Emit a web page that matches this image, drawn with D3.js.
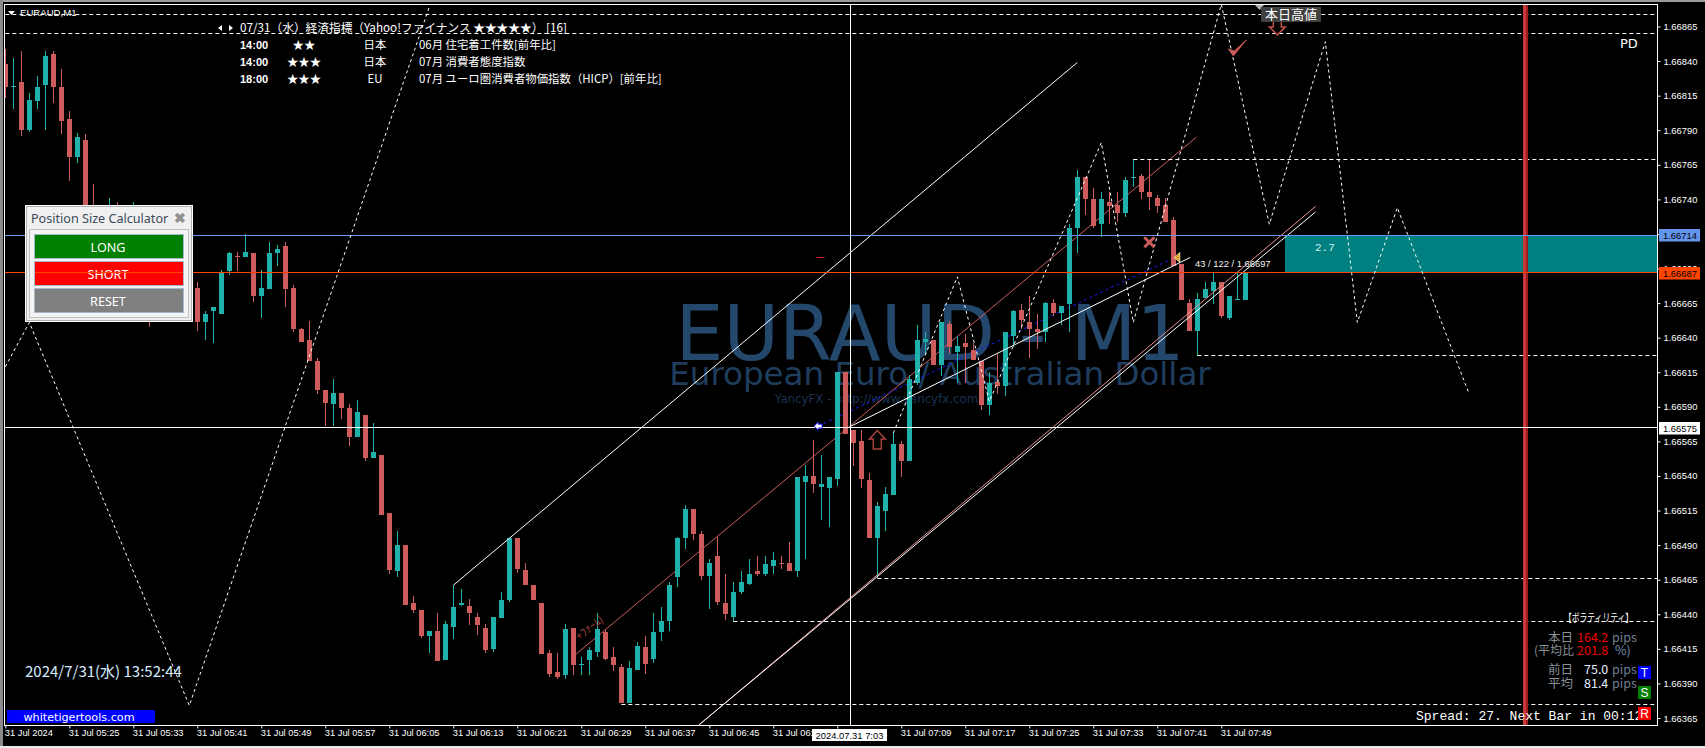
<!DOCTYPE html>
<html>
<head>
<meta charset="utf-8">
<title>EURAUD,M1</title>
<script src="https://cdn.jsdelivr.net/npm/d3@7/dist/d3.min.js"></script>
<style>
    html, body { margin: 0; padding: 0; background: #000; overflow: hidden; }
    text { font-family: "Liberation Sans", sans-serif; }
    .cjk { font-family: "Noto Sans CJK JP", sans-serif; }
</style>
</head>
<body>
<div id="wrapper"></div>
<script>
// all prices are in points above 1.66000, one value per minute from 05:17
const openPts = [838,821,825,790,811,823,845,821,798,771,783,731,717,703,722,706,695,715,682,662,673,663,688,692,
    676,651,659,657,688,699,698,701,670,675,701,706,676,646,638,623,602,592,600,589,568,584,553,555,513,471,490,448,443,424,
    428,407,431,447,446,438,430,415,437,450,495,472,461,448,412,398,396,430,403,407,413,427,409,402,376,400,416,408,427,435,
    467,495,516,498,468,482,448,438,456,462,471,469,475,477,477,471,536,540,532,531,538,615,573,565,537,495,515,526,563,551,
    607,637,638,620,650,630,636,631,623,591,608,605,641,660,651,646,644,665,658,664,719,756,740,722,738,736,730,756,757,745,
    741,736,725,693,665,645,669,674,680,654,667,667]
const highPts = [849,842,847,817,829,847,847,834,804,788,787,751,722,741,738,711,738,722,689,682,678,695,703,700,
    680,659,662,689,702,702,715,701,689,709,707,709,678,647,652,625,602,610,600,592,595,584,578,555,513,500,490,453,443,428,
    441,435,461,458,451,441,433,438,456,495,495,477,461,448,414,412,433,430,409,416,441,429,416,404,406,420,424,441,445,463,
    496,519,516,500,480,496,469,463,471,480,482,482,485,482,492,539,548,566,555,539,615,615,573,573,542,521,532,571,565,613,
    649,644,638,651,652,641,643,636,623,615,628,644,660,664,670,657,666,668,663,722,761,756,748,745,745,745,756,769,758,769,
    743,741,727,693,668,672,680,687,680,670,687,687]
const lowPts = [813,805,786,789,805,790,810,787,753,766,729,711,700,700,702,689,691,673,648,657,656,659,678,670,
    645,638,636,657,685,688,698,666,654,675,692,662,644,637,623,599,576,576,581,562,568,551,553,512,469,467,447,441,423,412,
    406,407,422,446,432,425,412,413,437,449,470,461,450,411,395,393,393,396,396,396,409,407,399,376,376,400,397,405,421,428,
    460,487,494,465,444,447,436,435,455,461,468,468,469,473,471,467,480,528,508,503,533,570,547,531,495,466,500,526,539,551,
    606,628,620,612,628,607,607,624,588,584,599,598,633,646,625,632,637,656,649,644,701,729,719,713,722,724,727,749,740,732,
    730,724,692,667,645,627,669,664,654,653,667,667]
const closePts = [821,822,790,812,821,844,821,797,771,785,731,717,703,724,706,695,717,682,662,673,663,691,695,675,
    651,657,662,687,701,698,702,670,676,701,704,675,646,637,623,602,593,600,589,568,586,553,557,512,472,490,447,443,424,428,
    406,433,445,448,441,432,414,438,450,495,473,461,450,411,397,395,429,403,404,414,429,408,403,376,401,417,404,427,435,461,
    495,516,498,468,477,449,440,456,463,469,469,476,479,476,471,539,540,534,534,539,615,570,564,538,495,518,527,563,551,610,
    638,639,620,651,633,634,633,624,591,607,605,644,659,653,646,644,665,658,663,719,756,740,721,740,735,730,754,756,745,742,
    735,724,692,667,645,668,675,680,656,670,668,687]

const priceTicks = [1.66865, 1.66840, 1.66815, 1.66790, 1.66765, 1.66740, 1.66715, 1.66690, 1.66665, 1.66640, 1.66615,
    1.66590, 1.66565, 1.66540, 1.66515, 1.66490, 1.66465, 1.66440, 1.66415, 1.66390, 1.66365]
const timeTickLabels = ["31 Jul 2024", "31 Jul 05:25", "31 Jul 05:33", "31 Jul 05:41", "31 Jul 05:49", "31 Jul 05:57", "31 Jul 06:05",
    "31 Jul 06:13", "31 Jul 06:21", "31 Jul 06:29", "31 Jul 06:37", "31 Jul 06:45", "31 Jul 06:53", "31 Jul 07:01", "31 Jul 07:09",
    "31 Jul 07:17", "31 Jul 07:25", "31 Jul 07:33", "31 Jul 07:41", "31 Jul 07:49"]

// dashed levels: bar index they start from, price in points
const levelStart = [0, 0, 141, 149, 109, 91, 77]
const levelPts = [874, 860, 769, 627, 466, 435, 375]

// zigzag indicator, two separate legs (bar index, points)
const zigA = [[0, 619], [3, 651], [23, 374], [54, 896]]
const zigB = [[111, 571], [119, 684], [123, 594], [137, 781], [141, 651], [152, 881], [158, 722], [165, 854], [169, 651], [174, 734], [183, 599]]

// channel lines [bar, pts, bar, pts]
const upperLine = [56, 461, 134, 839]
const midLine = [71.3, 411, 148.9, 785]
const lowerWhite = [86.7, 360, 163.8, 731]
const lowerRed = [86.7, 360, 163.8, 735]
const entryLine = [105.7, 576, 148.1, 698]
const blueLine = [101.6, 576, 146.2, 698]

const entryPrice = 1.66687
const stopPrice = 1.66714
const crossPrice = 1.66575

const newsTimes = ["14:00", "14:00", "18:00"]
const newsStars = ["★★", "★★★", "★★★"]
const newsAreas = ["日本", "日本", "EU"]
const newsTitles = ["06月 住宅着工件数[前年比]", "07月 消費者態度指数", "07月 ユーロ圏消費者物価指数（HICP）[前年比]"]

const panelButtons = ["LONG", "SHORT", "RESET"]
const panelColors = ["#008000", "#ff0000", "#808080"]

function drawChart() {

    let dimensions = {
        width: 1705,
        height: 748,
        margin: { top: 4.5, right: 48, bottom: 23, left: 4.5 },
    }
    dimensions.right = dimensions.width - dimensions.margin.right
    dimensions.bottom = dimensions.height - dimensions.margin.bottom

    const svg = d3.select("#wrapper")
        .append("svg")
        .attr("width", dimensions.width)
        .attr("height", dimensions.height)
        .style("display", "block")

    svg.append("rect").attr("width", 1705).attr("height", 748).attr("fill", "#000")
    // window chrome
    svg.append("rect").attr("width", 1705).attr("height", 2).attr("fill", "#9a9a9a")
    svg.append("rect").attr("width", 3).attr("height", 748).attr("fill", "#8a8a8a")
    svg.append("rect").attr("y", 746).attr("width", 1705).attr("height", 2).attr("fill", "#e8e8e8")

    svg.append("defs").append("clipPath").attr("id", "plot")
        .append("rect")
        .attr("x", dimensions.margin.left).attr("y", dimensions.margin.top)
        .attr("width", dimensions.right - dimensions.margin.left)
        .attr("height", dimensions.bottom - dimensions.margin.top)

    const t0 = new Date(2024, 6, 31, 5, 17)
    const barTime = i => new Date(+t0 + i * 60000)
    const xScale = d3.scaleTime()
        .domain([t0, barTime(155)])
        .range([5.33, 5.33 + 8 * 155])
    const yScale = d3.scaleLinear()
        .domain([1.66365, 1.66865])
        .range([718, 26.5])

    const price = pts => 1.66 + pts / 100000
    const xBar = i => xScale(barTime(i))
    const yPts = p => yScale(price(p))

    const plot = svg.append("g").attr("clip-path", "url(#plot)")

    // watermark goes under everything
    const mark = plot.append("g").attr("font-family", "DejaVu Sans")
    mark.append("text").attr("x", 930).attr("y", 360)
        .attr("text-anchor", "middle").attr("font-size", 76).attr("fill", "#24486b")
        .style("font-family", "DejaVu Sans")
        .text("EURAUD - M1")
    mark.append("text").attr("x", 940).attr("y", 385)
        .attr("text-anchor", "middle").attr("font-size", 32.5).attr("fill", "#1f3d5c")
        .style("font-family", "DejaVu Sans")
        .text("European Euro / Australian Dollar")
    mark.append("text").attr("x", 876.5).attr("y", 403)
        .attr("text-anchor", "middle").attr("font-size", 11.8).attr("fill", "#1c3152")
        .style("font-family", "DejaVu Sans")
        .text("YancyFX - http://www.yancyfx.com")

    // trade box to the right of the last bar
    plot.append("rect")
        .attr("x", 1285).attr("y", yScale(stopPrice))
        .attr("width", dimensions.right - 1285)
        .attr("height", yScale(entryPrice) - yScale(stopPrice))
        .attr("fill", "#008080")
    plot.append("text").attr("x", 1315).attr("y", 251)
        .attr("fill", "#cfeff0").attr("font-size", 11).style("font-family", "Liberation Mono")
        .text("2.7")

    const drawLine = (c, color, dash) => plot.append("line")
        .attr("x1", xBar(c[0])).attr("y1", yPts(c[1]))
        .attr("x2", xBar(c[2])).attr("y2", yPts(c[3]))
        .attr("stroke", color)
        .attr("stroke-width", 1)
        .attr("stroke-dasharray", dash || null)

    drawLine(midLine, "#cd5c5c")
    drawLine(blueLine, "#1a1aff", "3,3")

    // candles
    const bars = plot.append("g").attr("shape-rendering", "crispEdges")
    const idx = d3.range(openPts.length)
    bars.selectAll(".wick")
        .data(idx)
        .join("rect")
        .attr("class", "wick")
        .attr("x", i => Math.floor(xBar(i)))
        .attr("y", i => Math.round(yPts(highPts[i])))
        .attr("width", 1)
        .attr("height", i => Math.max(1, Math.round(yPts(lowPts[i])) - Math.round(yPts(highPts[i]))))
        .attr("fill", i => closePts[i] >= openPts[i] ? "#20b2aa" : "#cd5c5c")
    bars.selectAll(".body")
        .data(idx)
        .join("rect")
        .attr("class", "body")
        .attr("x", i => Math.floor(xBar(i)) - 2)
        .attr("y", i => Math.round(yPts(Math.max(openPts[i], closePts[i]))))
        .attr("width", 5)
        .attr("height", i => Math.max(1, Math.round(yPts(Math.min(openPts[i], closePts[i]))) - Math.round(yPts(Math.max(openPts[i], closePts[i])))))
        .attr("fill", i => closePts[i] >= openPts[i] ? "#20b2aa" : "#cd5c5c")

    drawLine(upperLine, "#ffffff")
    drawLine(lowerRed, "#e89090")
    drawLine(lowerWhite, "#ffffff")
    drawLine(entryLine, "#ffffff")

    // horizontal levels
    const hline = (x1, y, color, dash) => plot.append("line")
        .attr("x1", x1).attr("x2", dimensions.right)
        .attr("y1", Math.floor(y) + 0.5).attr("y2", Math.floor(y) + 0.5)
        .attr("stroke", color)
        .attr("stroke-dasharray", dash || null)
    levelPts.forEach((p, i) => hline(xBar(levelStart[i]), yPts(p), "#ffffff", "4,3"))

    // red end-of-day band
    plot.append("rect").attr("x", 1523).attr("y", 0).attr("width", 3).attr("height", 748).attr("fill", "#c83a3a")
    plot.append("rect").attr("x", 1526).attr("y", 0).attr("width", 2).attr("height", 748).attr("fill", "#a01c1c")

    hline(5, yScale(stopPrice), "#6495ed")
    hline(5, yScale(entryPrice), "#ff4500")

    const zigLine = d3.line().x(d => xBar(d[0])).y(d => yPts(d[1]))
    ;[zigA, zigB].forEach(z => plot.append("path")
        .attr("d", zigLine(z))
        .attr("fill", "none")
        .attr("stroke", "#fff")
        .attr("stroke-dasharray", "3,3"))

    // crosshair
    hline(5, yScale(crossPrice), "#ffffff")
    plot.append("line").attr("x1", 850.5).attr("x2", 850.5).attr("y1", 0).attr("y2", 726).attr("stroke", "#fff")

    // small objects on the chart
    plot.append("path").attr("transform", `translate(${xBar(101.6)},${yPts(576)})`)
        .attr("d", "M-4,0 L0,-4 L0,-2 L4,-2 L4,2 L0,2 L0,4 Z")
        .attr("fill", "#fff").attr("stroke", "#1a1aff").attr("stroke-width", 1)
    plot.append("path").attr("transform", `translate(${xBar(146.2)},${yPts(698)})`)
        .attr("d", "M5,-5 L-1,0 L5,5 Z").attr("fill", "#daa520").attr("stroke", "#fff").attr("stroke-width", 0.6)
    plot.append("line").attr("x1", xBar(101.4)).attr("x2", xBar(102.4))
        .attr("y1", 257.5).attr("y2", 257.5).attr("stroke", "#e02020")
    plot.append("path").attr("transform", `translate(${xBar(109)},${yPts(566)})`)
        .attr("d", "M0,-9.5 L8,-1 L4,-1 L4,9 L-4,9 L-4,-1 L-8,-1 Z")
        .attr("fill", "#000").attr("stroke", "#a8423c").attr("stroke-width", 1.5)
    plot.append("path").attr("transform", `translate(${xBar(159)},${yPts(864)})`)
        .attr("d", "M0,7 L8,-1 L4,-1 L4,-9 L-4,-9 L-4,-1 L-8,-1 Z")
        .attr("fill", "#000").attr("stroke", "#c0504a").attr("stroke-width", 1.5)
    plot.append("path").attr("transform", `translate(${xBar(143)},${yPts(709)})`)
        .attr("d", "M-5,-5 L5,5 M5,-5 L-5,5")
        .attr("stroke", "#cd5c5c").attr("stroke-width", 3).attr("fill", "none")
    plot.append("path").attr("transform", `translate(${xBar(154)},${yPts(849.5)})`)
        .attr("d", "M-9,1 L-4,8 L9,-8 L-3,3 Z")
        .attr("fill", "#cd5c5c").attr("stroke", "#cd5c5c").attr("stroke-width", 0.8)
    plot.append("text").attr("transform", `translate(${xBar(73.3)},${yPts(428)}) rotate(-38)`)
        .attr("class", "cjk").attr("text-anchor", "middle")
        .attr("font-size", 11).attr("fill", "#a8423c")
        .text("+ﾌｧｰﾑ)")
    plot.append("text").attr("x", 1195).attr("y", 267)
        .attr("fill", "#f2f2f2").attr("font-size", 9.4)
        .text("43 / 122 / 1.66697")

    // today's-high tag
    plot.append("path").attr("d", "M1255,5 L1264,5 L1259.5,10 Z").attr("fill", "#b0b0b0")
    plot.append("rect").attr("x", 1261).attr("y", 7).attr("width", 60).attr("height", 15).attr("fill", "#404040")
    plot.append("text").attr("x", 1291).attr("y", 19)
        .attr("class", "cjk").attr("text-anchor", "middle").attr("font-size", 13).attr("fill", "#fff")
        .text("本日高値")

    // frame
    svg.append("rect")
        .attr("x", dimensions.margin.left).attr("y", dimensions.margin.top)
        .attr("width", dimensions.right - dimensions.margin.left + 0.5)
        .attr("height", dimensions.bottom - dimensions.margin.top + 0.5)
        .attr("fill", "none").attr("stroke", "#fff").attr("shape-rendering", "crispEdges")

    // price axis
    const yAxis = svg.append("g")
        .attr("transform", `translate(${dimensions.right + 0.5},0)`)
        .call(d3.axisRight(yScale)
            .tickValues(priceTicks)
            .tickSize(3)
            .tickPadding(3)
            .tickFormat(d3.format(".5f")))
        .call(g => g.select(".domain").remove())
        .call(g => g.selectAll(".tick line").attr("stroke", "#fff"))
        .call(g => g.selectAll(".tick text").attr("fill", "#fff").attr("font-size", 9.4).style("font-family", "Liberation Sans"))

    // time axis
    const tickTimes = timeTickLabels.map((d, i) => barTime(i * 8))
    const xAxis = svg.append("g")
        .attr("transform", `translate(0,${dimensions.bottom + 0.5})`)
        .call(d3.axisBottom(xScale)
            .tickValues(tickTimes)
            .tickSize(3)
            .tickFormat((d, i) => timeTickLabels[i]))
        .call(g => g.select(".domain").remove())
        .call(g => g.selectAll(".tick line").attr("stroke", "#fff"))
        .call(g => g.selectAll(".tick text")
            .attr("fill", "#fff")
            .attr("font-size", 9.3)
            .style("font-family", "Liberation Sans")
            .attr("text-anchor", "start")
            .attr("x", -1)
            .attr("y", 4))

    // current-value boxes on the axes
    const priceTag = (p, color) => {
        const y = Math.round(yScale(p))
        svg.append("rect").attr("x", 1659).attr("y", y - 6).attr("width", 41).attr("height", 12.5).attr("fill", color)
        svg.append("text").attr("x", 1663).attr("y", y + 3.5)
            .attr("font-size", 9.4).attr("fill", "#000")
            .text(d3.format(".5f")(p))
    }
    priceTag(stopPrice, "#6495ed")
    priceTag(entryPrice, "#ff4500")
    priceTag(crossPrice, "#ffffff")

    svg.append("rect").attr("x", 812).attr("y", 729).attr("width", 75).attr("height", 12).attr("fill", "#fff")
    svg.append("text").attr("x", 849.5).attr("y", 738.5)
        .attr("text-anchor", "middle").attr("font-size", 9.4).attr("fill", "#000")
        .text("2024.07.31 7:03")

    // top-left title
    svg.append("path").attr("d", "M8,11 L15,11 L11.5,15 Z").attr("fill", "#fff")
    svg.append("text").attr("x", 20).attr("y", 16).attr("fill", "#fff").attr("font-size", 9.6).text("EURAUD,M1")

    // economic calendar
    const news = svg.append("g").attr("class", "cjk").attr("fill", "#fff").attr("font-size", 11.4)
    news.append("path").attr("d", "M218,28 L222,25 L222,31 Z")
    news.append("path").attr("d", "M233,28 L229,25 L229,31 Z")
    news.append("text").attr("x", 240).attr("y", 32)
        .attr("class", "cjk").attr("font-size", 11.7)
        .text("07/31（水）経済指標（Yahoo!ファイナンス ★★★★★） [16]")
    newsTimes.forEach((d, i) => {
        const y = 49 + i * 17
        news.append("text").attr("x", 240).attr("y", y).attr("font-weight", "bold").style("font-family", "Liberation Sans").attr("font-size", 11).text(d)
        news.append("text").attr("x", 304).attr("y", y).attr("text-anchor", "middle").attr("class", "cjk").text(newsStars[i])
        news.append("text").attr("x", 375).attr("y", y).attr("text-anchor", "middle").attr("class", "cjk").text(newsAreas[i])
        news.append("text").attr("x", 419).attr("y", y).attr("class", "cjk").text(newsTitles[i])
    })

    // position size panel
    const panel = svg.append("g")
    panel.append("rect").attr("x", 25.5).attr("y", 205.5).attr("width", 167).attr("height", 116)
        .attr("fill", "#f0f0f0").attr("stroke", "#fff").attr("stroke-width", 1)
    panel.append("rect").attr("x", 26.5).attr("y", 206.5).attr("width", 165).attr("height", 114)
        .attr("fill", "none").attr("stroke", "#b0b0b0")
    panel.append("rect").attr("x", 29.5).attr("y", 229.5).attr("width", 159).attr("height", 88)
        .attr("fill", "#f4f4f4").attr("stroke", "#c0c0c0")
    panel.append("text").attr("x", 31).attr("y", 223).attr("fill", "#3c4a5a")
        .attr("font-size", 12.6).style("font-family", "Noto Sans")
        .text("Position Size Calculator")
    panel.append("text").attr("x", 180).attr("y", 223).attr("text-anchor", "middle")
        .attr("fill", "#909090").attr("font-size", 14).attr("font-weight", "bold").text("✖")
    panelButtons.forEach((d, i) => {
        const y = 234.5 + i * 27
        panel.append("rect").attr("x", 34.5).attr("y", y).attr("width", 149).attr("height", 24)
            .attr("fill", panelColors[i]).attr("stroke", "#a8b8c8")
        panel.append("text").attr("x", 108).attr("y", y + 17).attr("text-anchor", "middle")
            .attr("fill", "#fff").attr("font-size", 12.6).style("font-family", "Noto Sans").text(d)
    })
    panel.append("line").attr("x1", 35).attr("x2", 183).attr("y1", 272.5).attr("y2", 272.5).attr("stroke", "#ff4500")

    // clock and link
    svg.append("text").attr("x", 25).attr("y", 677).attr("class", "cjk")
        .attr("fill", "#d8ecff").attr("font-size", 15)
        .text("2024/7/31(水) 13:52:44")
    svg.append("rect").attr("x", 7).attr("y", 710).attr("width", 148).attr("height", 13).attr("fill", "#0000ff")
    svg.append("text").attr("x", 79).attr("y", 721).attr("text-anchor", "middle")
        .attr("fill", "#fff").attr("font-size", 11.2).style("font-family", "DejaVu Sans")
        .text("whitetigertools.com")

    svg.append("text").attr("x", 1620).attr("y", 48).attr("fill", "#fff").attr("font-size", 13).style("font-family", "DejaVu Sans").text("PD")

    // volatility block
    const vol = svg.append("g").attr("font-size", 12.5)
    const volText = (x, y, s, color, anchor) => vol.append("text")
        .attr("x", x).attr("y", y).attr("class", "cjk")
        .attr("fill", color).attr("text-anchor", anchor || "start").text(s)
    volText(1564, 622, "【ボラティリティ】", "#fff")
        .attr("font-size", 11)
        .attr("textLength", 69)
        .attr("lengthAdjust", "spacingAndGlyphs")
    volText(1548, 642, "本日", "#8a8f96")
    volText(1577, 642, "164.2", "#f00000")
    volText(1612, 642, "pips", "#6f7f90")
    volText(1534, 655, "(平均比", "#8a8f96").attr("font-size", 12)
    volText(1577, 655, "201.8", "#f00000")
    volText(1615, 655, "%)", "#6f8fb0")
    volText(1548, 674, "前日", "#8a8f96")
    volText(1584, 674, "75.0", "#e8f0ff")
    volText(1612, 674, "pips", "#6f7f90")
    volText(1548, 688, "平均", "#8a8f96")
    volText(1584, 688, "81.4", "#e8f0ff")
    volText(1612, 688, "pips", "#6f7f90")

    svg.append("text").attr("x", 1416).attr("y", 720)
        .attr("fill", "#fff").attr("font-size", 13).style("font-family", "Liberation Mono")
        .text("Spread: 27. Next Bar in 00:12")

    const tsr = [["T", "#0000ff", 666], ["S", "#008000", 686], ["R", "#ff0000", 707]]
    tsr.forEach(d => {
        svg.append("rect").attr("x", 1638).attr("y", d[2]).attr("width", 13).attr("height", 13).attr("fill", d[1])
        svg.append("text").attr("x", 1644.5).attr("y", d[2] + 11).attr("text-anchor", "middle")
            .attr("fill", "#fff").attr("font-size", 12).text(d[0])
    })
}

drawChart()
</script>
</body>
</html>
